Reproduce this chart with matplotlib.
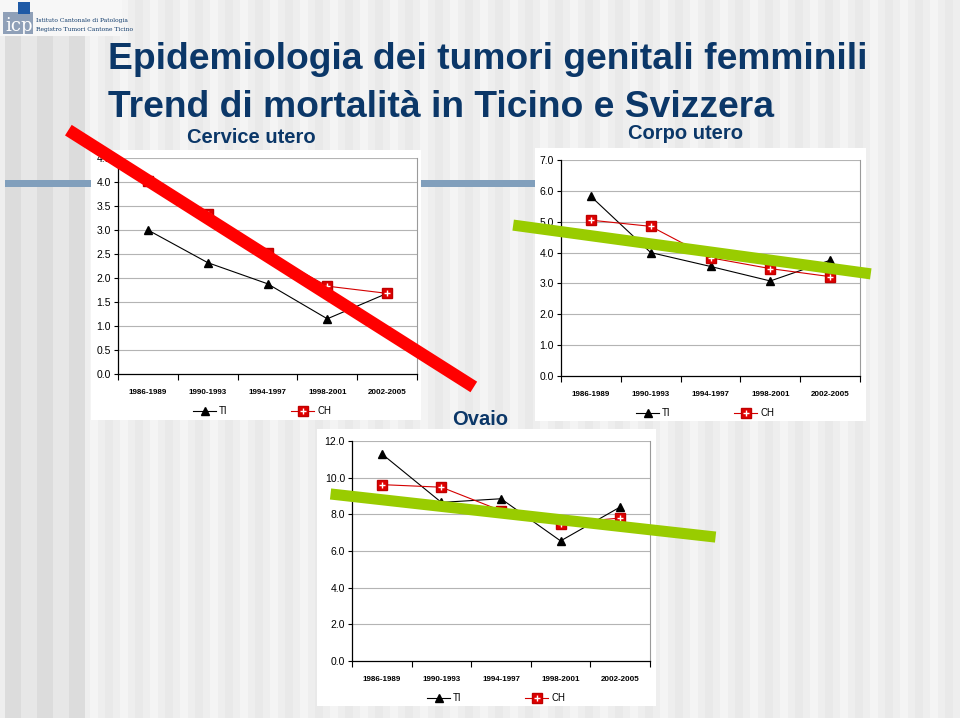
import numpy as np
from matplotlib import pyplot as plt
from matplotlib.patches import Rectangle

plt.rcParams['font.family'] = ['Liberation Sans', 'DejaVu Sans']

W, H = 960, 718
NAVY = '#0b3768'

periods = ['1986-1989', '1990-1993', '1994-1997', '1998-2001', '2002-2005']

cervice_ti = [3.0, 2.32, 1.88, 1.15, 1.68]
cervice_ch = [4.03, 3.33, 2.52, 1.83, 1.68]

corpo_ti = [5.82, 4.0, 3.55, 3.08, 3.75]
corpo_ch = [5.05, 4.85, 3.83, 3.48, 3.22]

ovaio_ti = [11.3, 8.65, 8.85, 6.55, 8.4]
ovaio_ch = [9.62, 9.48, 8.2, 7.5, 7.8]

# hand drawn trend strokes, ends given in (category index, value) of each chart
cervice_trend = ([-1.33, 5.45], [5.08, -0.27])
corpo_trend = ([-1.30, 4.68], [4.89, 3.31])
ovaio_trend = ([-0.86, 5.60], [9.11, 6.76])


def px_rect(x0, y0, x1, y1):
    return [x0 / W, 1 - y1 / H, (x1 - x0) / W, (y1 - y0) / H]


def draw_chart(fig, rect, ti, ch, ymax, ystep, trend, tcolor, tlw, leg_xy):
    ax = fig.add_axes(px_rect(*rect), zorder=2)
    x = np.arange(len(periods))
    ax.set_facecolor('white')
    for yv in np.arange(ystep, ymax + ystep / 2, ystep):
        ax.axhline(yv, color='#b4b4b4', lw=0.8, zorder=1)
    l1, = ax.plot(x, ti, color='black', lw=0.8, marker='^', ms=5.5,
                  mfc='black', mec='black', zorder=3)
    l2, = ax.plot(x, ch, color='#d40000', lw=0.8, marker='s', ms=7.5,
                  mfc='#e00000', mec='#c00000', zorder=3)
    l3, = ax.plot(x, ch, ls='none', marker='+', ms=4.5, mew=1.0,
                  color='white', zorder=4)
    ax.plot(trend[0], trend[1], color=tcolor, lw=tlw, solid_capstyle='butt',
            clip_on=False, zorder=10)
    ax.set_xlim(-0.5, len(periods) - 0.5)
    ax.set_ylim(0, ymax)
    ax.set_yticks(np.arange(0, ymax + ystep / 2, ystep))
    ax.set_yticklabels(['%.1f' % v for v in np.arange(0, ymax + ystep / 2, ystep)],
                       fontsize=7.5)
    ax.set_xticks(x)
    ax.set_xticklabels(periods, fontsize=5.8, fontweight='bold')
    ax.set_xticks(np.arange(-0.5, len(periods)), minor=True)
    ax.tick_params(axis='x', which='major', length=0, pad=11)
    ax.tick_params(axis='x', which='minor', length=4, direction='out', width=0.8)
    ax.tick_params(axis='y', length=3, width=0.8, pad=2)
    for s in ['left', 'bottom']:
        ax.spines[s].set_color('black')
        ax.spines[s].set_linewidth(0.9)
    ax.spines['top'].set_visible(False)
    ax.spines['right'].set_color('#9a9a9a')
    ax.spines['right'].set_linewidth(0.8)
    ax.legend([l1, (l2, l3)], ['TI', 'CH'], ncol=2, loc='center',
              bbox_to_anchor=(leg_xy[0] / W, 1 - leg_xy[1] / H),
              bbox_transform=fig.transFigure, frameon=False, fontsize=7,
              handlelength=2.4, columnspacing=6.5, handletextpad=0.3)
    return ax


fig = plt.figure(figsize=(9.6, 7.18), dpi=100)

# slide background
bg = fig.add_axes([0, 0, 1, 1], zorder=0)
bg.set_xlim(0, W)
bg.set_ylim(H, 0)
bg.axis('off')
bg.add_patch(Rectangle((0, 0), W, H, color='#eeeeee'))
for i, xs in enumerate(np.arange(75, W, 15)):
    bg.add_patch(Rectangle((xs, 0), 8, H, color='#f4f4f4' if i % 2 else '#e9e9e9', lw=0))
for i, xs in enumerate(np.arange(5, 75, 16)):
    bg.add_patch(Rectangle((xs, 0), 16, H, color='#dcdcdc' if i % 2 == 0 else '#e7e7e7', lw=0))
bg.add_patch(Rectangle((5, 180), 700, 7, color='#819fbc', lw=0))

# logo
bg.add_patch(Rectangle((0, 0), 122, 36, color='#f7f7f7', lw=0))
bg.add_patch(Rectangle((3, 12), 30, 22, color='#8fa0b8', lw=0))
bg.add_patch(Rectangle((18, 2), 12, 12, color='#1f5aa6', lw=0))
bg.text(5, 31, 'icp', fontsize=13, color='white', family='DejaVu Serif')
bg.text(36, 22, 'Istituto Cantonale di Patologia', fontsize=4.3, color=NAVY,
        family='DejaVu Serif')
bg.text(36, 31, 'Registro Tumori Cantone Ticino', fontsize=4.3, color=NAVY,
        family='DejaVu Serif')

# chart panels
bg.add_patch(Rectangle((91, 150), 330, 270, color='white', lw=0))
bg.add_patch(Rectangle((535, 148), 331, 273, color='white', lw=0))
bg.add_patch(Rectangle((317, 429), 339, 277, color='white', lw=0))

# titles
bg.text(108, 69, 'Epidemiologia dei tumori genitali femminili', fontsize=26.8,
        fontweight='bold', color=NAVY, va='baseline')
bg.text(108, 117, 'Trend di mortalità in Ticino e Svizzera', fontsize=26.8,
        fontweight='bold', color=NAVY, va='baseline')
bg.text(187, 143, 'Cervice utero', fontsize=14.5, fontweight='bold', color=NAVY,
        va='baseline')
bg.text(628, 139, 'Corpo utero', fontsize=14.5, fontweight='bold', color=NAVY,
        va='baseline')
bg.text(452, 425, 'Ovaio', fontsize=14.5, fontweight='bold', color=NAVY,
        va='baseline')

draw_chart(fig, (118, 158, 417, 374), cervice_ti, cervice_ch, 4.5, 0.5,
           cervice_trend, '#ff0000', 9, (262, 411))
draw_chart(fig, (561, 160, 860, 376), corpo_ti, corpo_ch, 7.0, 1.0,
           corpo_trend, '#99cc00', 8, (705, 413))
draw_chart(fig, (352, 441, 650, 661), ovaio_ti, ovaio_ch, 12.0, 2.0,
           ovaio_trend, '#99cc00', 8, (496, 698))

fig.savefig('out.png', dpi=100)
